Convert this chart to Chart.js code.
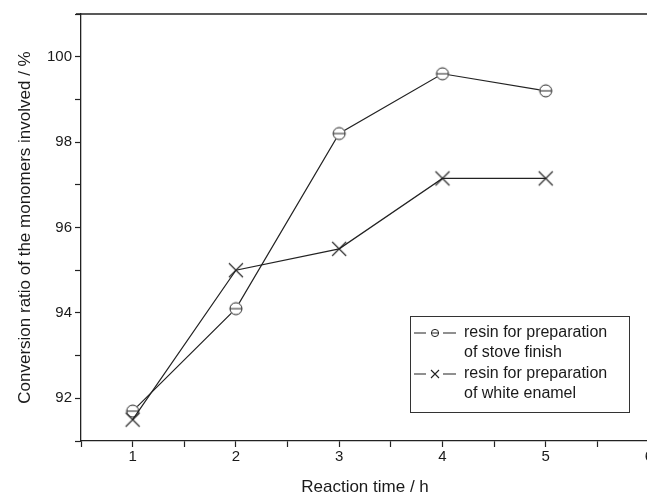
<!DOCTYPE html>
<html>
<head>
<meta charset="utf-8">
<script src="https://cdn.jsdelivr.net/npm/chart.js@4.4.1/dist/chart.umd.min.js"></script>
<style>
  html, body { margin: 0; padding: 0; overflow: hidden; background: #fff; }
  #wrap { width: 680px; height: 498px; }
</style>
</head>
<body>
<div id="wrap"><canvas id="chart" width="680" height="498"></canvas></div>
<script>
// data
const hours = [1, 2, 3, 4, 5];
const stoveFinish = [91.7, 94.1, 98.2, 99.6, 99.2];
const whiteEnamel = [91.5, 95.0, 95.5, 97.15, 97.15];
const xTickLabels = [1, 2, 3, 4, 5, 6];
const yTickLabels = [92, 94, 96, 98, 100];
const stoveLabel = ['resin for preparation', 'of stove finish'];
const enamelLabel = ['resin for preparation', 'of white enamel'];

const INK = '#222';
const TEXT = '#1a1a1a';
const FONT = '"Liberation Sans", Arial, sans-serif';

function drawThetaMark(ctx, x, y, r, pad) {
  if (pad) {
    ctx.fillStyle = '#fff';
    ctx.beginPath(); ctx.arc(x, y, pad, 0, Math.PI * 2); ctx.fill();
  }
  ctx.strokeStyle = INK;
  ctx.lineWidth = 1;
  ctx.beginPath(); ctx.arc(x, y, r, 0, Math.PI * 2); ctx.stroke();
  ctx.beginPath(); ctx.moveTo(x - r, y); ctx.lineTo(x + r, y); ctx.stroke();
}

function drawCrossMark(ctx, x, y, r, pad) {
  if (pad) {
    ctx.fillStyle = '#fff';
    ctx.beginPath(); ctx.arc(x, y, pad, 0, Math.PI * 2); ctx.fill();
  }
  ctx.strokeStyle = INK;
  ctx.lineWidth = 1.1;
  ctx.beginPath();
  ctx.moveTo(x - r, y - r); ctx.lineTo(x + r, y + r);
  ctx.moveTo(x + r, y - r); ctx.lineTo(x - r, y + r);
  ctx.stroke();
}

function markCanvas(draw, r, pad) {
  const c = document.createElement('canvas');
  c.width = 24; c.height = 24;
  draw(c.getContext('2d'), 12, 12, r, pad);
  return c;
}

const thetaPoint = markCanvas(drawThetaMark, 6, 6.5);
const crossPoint = markCanvas(drawCrossMark, 7, 0);

// box border: top line of the frame
const framePlugin = {
  id: 'frame',
  afterDraw(chart) {
    const { ctx, chartArea } = chart;
    ctx.save();
    ctx.strokeStyle = INK;
    ctx.lineWidth = 1.3;
    ctx.beginPath();
    ctx.moveTo(chartArea.left - 5, chartArea.top);
    ctx.lineTo(chartArea.right, chartArea.top);
    ctx.stroke();
    ctx.restore();
  }
};

// boxed legend with two-line labels
const boxLegend = {
  id: 'boxLegend',
  afterDraw(chart) {
    const { ctx, chartArea } = chart;
    const left = chartArea.left + 329, top = chartArea.top + 302;
    const w = 219, h = 96;
    ctx.save();
    ctx.fillStyle = '#fff';
    ctx.fillRect(left, top, w, h);
    ctx.strokeStyle = '#333';
    ctx.lineWidth = 1;
    ctx.strokeRect(left + 0.5, top + 0.5, w, h);
    ctx.font = '16px ' + FONT;
    ctx.fillStyle = TEXT;
    ctx.textBaseline = 'middle';
    const marks = [drawThetaMark, drawCrossMark];
    const sizes = [3.6, 4];
    chart.data.datasets.forEach((ds, i) => {
      const y0 = top + 17 + i * 41;
      ctx.strokeStyle = INK;
      ctx.lineWidth = 1.2;
      ctx.beginPath();
      ctx.moveTo(left + 4, y0); ctx.lineTo(left + 16, y0);
      ctx.moveTo(left + 33, y0); ctx.lineTo(left + 46, y0);
      ctx.stroke();
      marks[i](ctx, left + 25, y0, sizes[i], 0);
      ctx.fillStyle = TEXT;
      ds.label.forEach((line, j) => {
        ctx.fillText(line, left + 54, y0 + j * 20);
      });
    });
    ctx.restore();
  }
};

const makeTicks = (from, to, step) => {
  const out = [];
  for (let v = from; v <= to + 1e-9; v += step) out.push({ value: Math.round(v * 100) / 100 });
  return out;
};

new Chart(document.getElementById('chart'), {
  type: 'line',
  data: {
    datasets: [
      {
        label: stoveLabel,
        data: hours.map((h, i) => ({ x: h, y: stoveFinish[i] })),
        borderColor: INK,
        borderWidth: 1.2,
        pointStyle: thetaPoint,
        clip: false,
        order: 1,
        tension: 0
      },
      {
        label: enamelLabel,
        data: hours.map((h, i) => ({ x: h, y: whiteEnamel[i] })),
        borderColor: INK,
        borderWidth: 1.2,
        pointStyle: crossPoint,
        clip: false,
        order: 0,
        tension: 0
      }
    ]
  },
  options: {
    responsive: false,
    animation: false,
    devicePixelRatio: 1,
    layout: { padding: { top: 14, right: 31, left: 0, bottom: 0 } },
    plugins: { legend: { display: false }, tooltip: { enabled: false } },
    scales: {
      x: {
        type: 'linear',
        min: 0.5,
        max: 6,
        afterBuildTicks: s => { s.ticks = makeTicks(0.5, 6, 0.5); },
        afterFit: s => { s.height = 57; },
        grid: { drawOnChartArea: false, tickLength: 6, tickColor: INK, tickWidth: 1.2 },
        border: { color: INK, width: 1.3 },
        ticks: {
          autoSkip: false, maxRotation: 0, padding: 1,
          color: TEXT, font: { family: FONT, size: 15 },
          callback: v => xTickLabels.includes(v) ? String(v) : ''
        },
        title: {
          display: true, text: 'Reaction time / h', color: TEXT,
          font: { family: FONT, size: 17 }, padding: { top: 0, bottom: 0 }
        }
      },
      y: {
        min: 91,
        max: 101,
        afterBuildTicks: s => { s.ticks = makeTicks(91, 101, 1); },
        afterFit: s => { s.width = 81; },
        grid: { drawOnChartArea: false, tickLength: 6, tickColor: INK, tickWidth: 1.2 },
        border: { color: INK, width: 1.3 },
        ticks: {
          autoSkip: false, padding: 3,
          color: TEXT, font: { family: FONT, size: 15 },
          callback: v => yTickLabels.includes(v) ? String(v) : ''
        },
        title: {
          display: true, text: 'Conversion ratio of the monomers involved / %', color: TEXT,
          font: { family: FONT, size: 17 }, padding: { top: 15, bottom: 0 }
        }
      }
    }
  },
  plugins: [framePlugin, boxLegend]
});
</script>
</body>
</html>
